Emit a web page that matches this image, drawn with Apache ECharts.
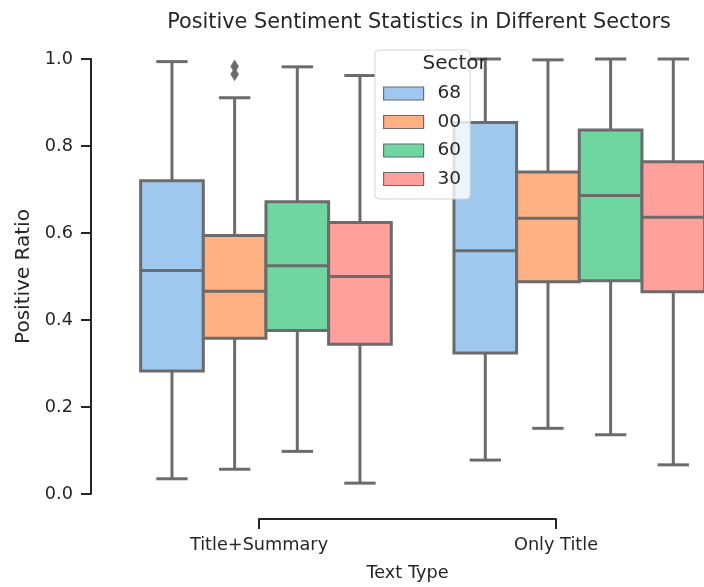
<!DOCTYPE html>
<html>
<head>
<meta charset="utf-8">
<script src="https://cdn.jsdelivr.net/npm/echarts@6/dist/echarts.min.js"></script>
<style>html,body{margin:0;padding:0;background:#fff}#c{width:704px;height:587px}</style>
</head>
<body>
<div id="c"></div>
<script>
// ---- data ----
const categories = ['Title+Summary', 'Only Title'];
const sectors = ['68', '00', '60', '30'];
// per category: [lower whisker, Q1, median, Q3, upper whisker]
const stats68 = [[0.035, 0.283, 0.514, 0.720, 0.994], [0.078, 0.324, 0.559, 0.854, 1.000]];
const stats00 = [[0.057, 0.358, 0.466, 0.594, 0.911], [0.151, 0.488, 0.634, 0.740, 0.998]];
const stats60 = [[0.098, 0.376, 0.525, 0.672, 0.982], [0.136, 0.490, 0.686, 0.837, 1.000]];
const stats30 = [[0.025, 0.344, 0.500, 0.624, 0.962], [0.067, 0.465, 0.636, 0.764, 1.000]];
// outliers: [category index, sector index, value]
const outliers = [[0, 1, 0.983], [0, 1, 0.965]];
const yTickLabels = ['0.0', '0.2', '0.4', '0.6', '0.8', '1.0'];
const colors = ['#9fc8ee', '#ffb183', '#6fd6a2', '#ffa09d'];

const FONT = 'DejaVu Sans';
const EDGE = '#6b6b6b';
const INK = '#262626';
const allStats = [stats68, stats00, stats60, stats30];

function boxRenderer(hue) {
  return function (params, api) {
    const cat = api.value(0);
    const band = api.size([1, 0])[0];
    const w = band * 0.8 / 4;
    const cx = api.coord([cat, 0])[0] + (hue - 1.5) * w;
    const y = v => api.coord([cat, v])[1];
    const yLo = y(api.value(1)), yQ1 = y(api.value(2)), yMed = y(api.value(3)), yQ3 = y(api.value(4)), yHi = y(api.value(5));
    const ls = { stroke: EDGE, lineWidth: 3 };
    const half = w / 2, cap = w / 4;
    return {
      type: 'group',
      children: [
        { type: 'line', shape: { x1: cx, y1: yQ3, x2: cx, y2: yHi }, style: ls },
        { type: 'line', shape: { x1: cx, y1: yQ1, x2: cx, y2: yLo }, style: ls },
        { type: 'line', shape: { x1: cx - cap, y1: yHi, x2: cx + cap, y2: yHi }, style: ls },
        { type: 'line', shape: { x1: cx - cap, y1: yLo, x2: cx + cap, y2: yLo }, style: ls },
        { type: 'rect', shape: { x: cx - half, y: yQ3, width: w, height: yQ1 - yQ3 }, style: { fill: colors[hue], stroke: EDGE, lineWidth: 3 } },
        { type: 'line', shape: { x1: cx - half, y1: yMed, x2: cx + half, y2: yMed }, style: ls }
      ]
    };
  };
}

function outlierRenderer(params, api) {
  const cat = api.value(0), hue = api.value(1), v = api.value(2);
  const band = api.size([1, 0])[0];
  const w = band * 0.8 / 4;
  const p = api.coord([cat, v]);
  const cx = p[0] + (hue - 1.5) * w, cy = p[1];
  const hw = 4, hh = 6.5;
  return {
    type: 'polygon',
    shape: { points: [[cx, cy - hh], [cx + hw, cy], [cx, cy + hh], [cx - hw, cy]] },
    style: { fill: EDGE, stroke: EDGE, lineWidth: 0.5 }
  };
}

const series = sectors.map((name, h) => ({
  name: name,
  type: 'custom',
  xAxisIndex: 0, yAxisIndex: 0,
  renderItem: boxRenderer(h),
  itemStyle: { color: colors[h] },
  encode: { x: 0, y: [1, 2, 3, 4, 5] },
  data: allStats[h].map((s, i) => [i].concat(s)),
  clip: false,
  z: 2
}));
series.push({
  name: 'outliers',
  type: 'custom',
  xAxisIndex: 0, yAxisIndex: 0,
  renderItem: outlierRenderer,
  encode: { x: 0, y: 2 },
  data: outliers,
  clip: false,
  z: 3
});

const chart = echarts.init(document.getElementById('c'), null, { renderer: 'canvas' });
chart.setOption({
  animation: false,
  backgroundColor: '#fff',
  textStyle: { fontFamily: FONT },
  title: {
    text: 'Positive Sentiment Statistics in Different Sectors',
    left: 414, top: 7, textAlign: 'center',
    textStyle: { fontFamily: FONT, fontSize: 20.8, fontWeight: 'normal', color: INK }
  },
  grid: [
    { left: 109.3, right: 0, top: 59, bottom: 93 },
    { left: 259, width: 297, top: 59, bottom: 93 }
  ],
  xAxis: [
    // hidden positioning axis for the boxes (category index as value)
    { gridIndex: 0, type: 'value', min: -0.5, max: 1.398, show: false },
    {
      gridIndex: 1, type: 'category', data: categories, boundaryGap: false, offset: 28,
      axisLine: { onZero: false, lineStyle: { color: INK, width: 2 } },
      axisTick: { length: 10, lineStyle: { color: INK, width: 2 } },
      axisLabel: { interval: 0, fontFamily: FONT, fontSize: 17.7, color: INK, margin: 17 },
      name: 'Text Type', nameLocation: 'middle', nameGap: 45,
      nameTextStyle: { fontFamily: FONT, fontSize: 17.7, color: INK }
    }
  ],
  yAxis: [
    {
      gridIndex: 0, type: 'value', min: 0, max: 1, interval: 0.2, offset: 18.3,
      axisLine: { show: true, onZero: false, lineStyle: { color: INK, width: 2 } },
      axisTick: { show: true, length: 10, lineStyle: { color: INK, width: 2 } },
      splitLine: { show: false },
      axisLabel: {
        fontFamily: FONT, fontSize: 17.7, color: INK, margin: 18,
        formatter: v => yTickLabels[Math.round(v / 0.2)]
      },
      name: 'Positive Ratio', nameLocation: 'middle', nameGap: 54,
      nameTextStyle: { fontFamily: FONT, fontSize: 20, color: INK }
    },
    { gridIndex: 1, type: 'value', min: 0, max: 1, show: false }
  ],
  legend: {
    data: sectors,
    orient: 'vertical',
    left: 375, top: 50,
    padding: [34, 9, 10.5, 8],
    itemWidth: 40, itemHeight: 13, itemGap: 9.5,
    icon: 'rect',
    itemStyle: { borderColor: EDGE, borderWidth: 1.2 },
    backgroundColor: 'rgba(255,255,255,0.8)',
    borderColor: '#d6d6d6', borderWidth: 1, borderRadius: 4,
    textStyle: { fontFamily: FONT, fontSize: 18.5, color: INK, lineHeight: 18, padding: [0, 0, 0, 9] },
    z: 10
  },
  graphic: [{
    type: 'text', left: 422.5, top: 54, z: 100,
    style: { text: 'Sector', font: '20px "DejaVu Sans"', fill: INK, textAlign: 'center' }
  }],
  series: series
});
</script>
</body>
</html>
